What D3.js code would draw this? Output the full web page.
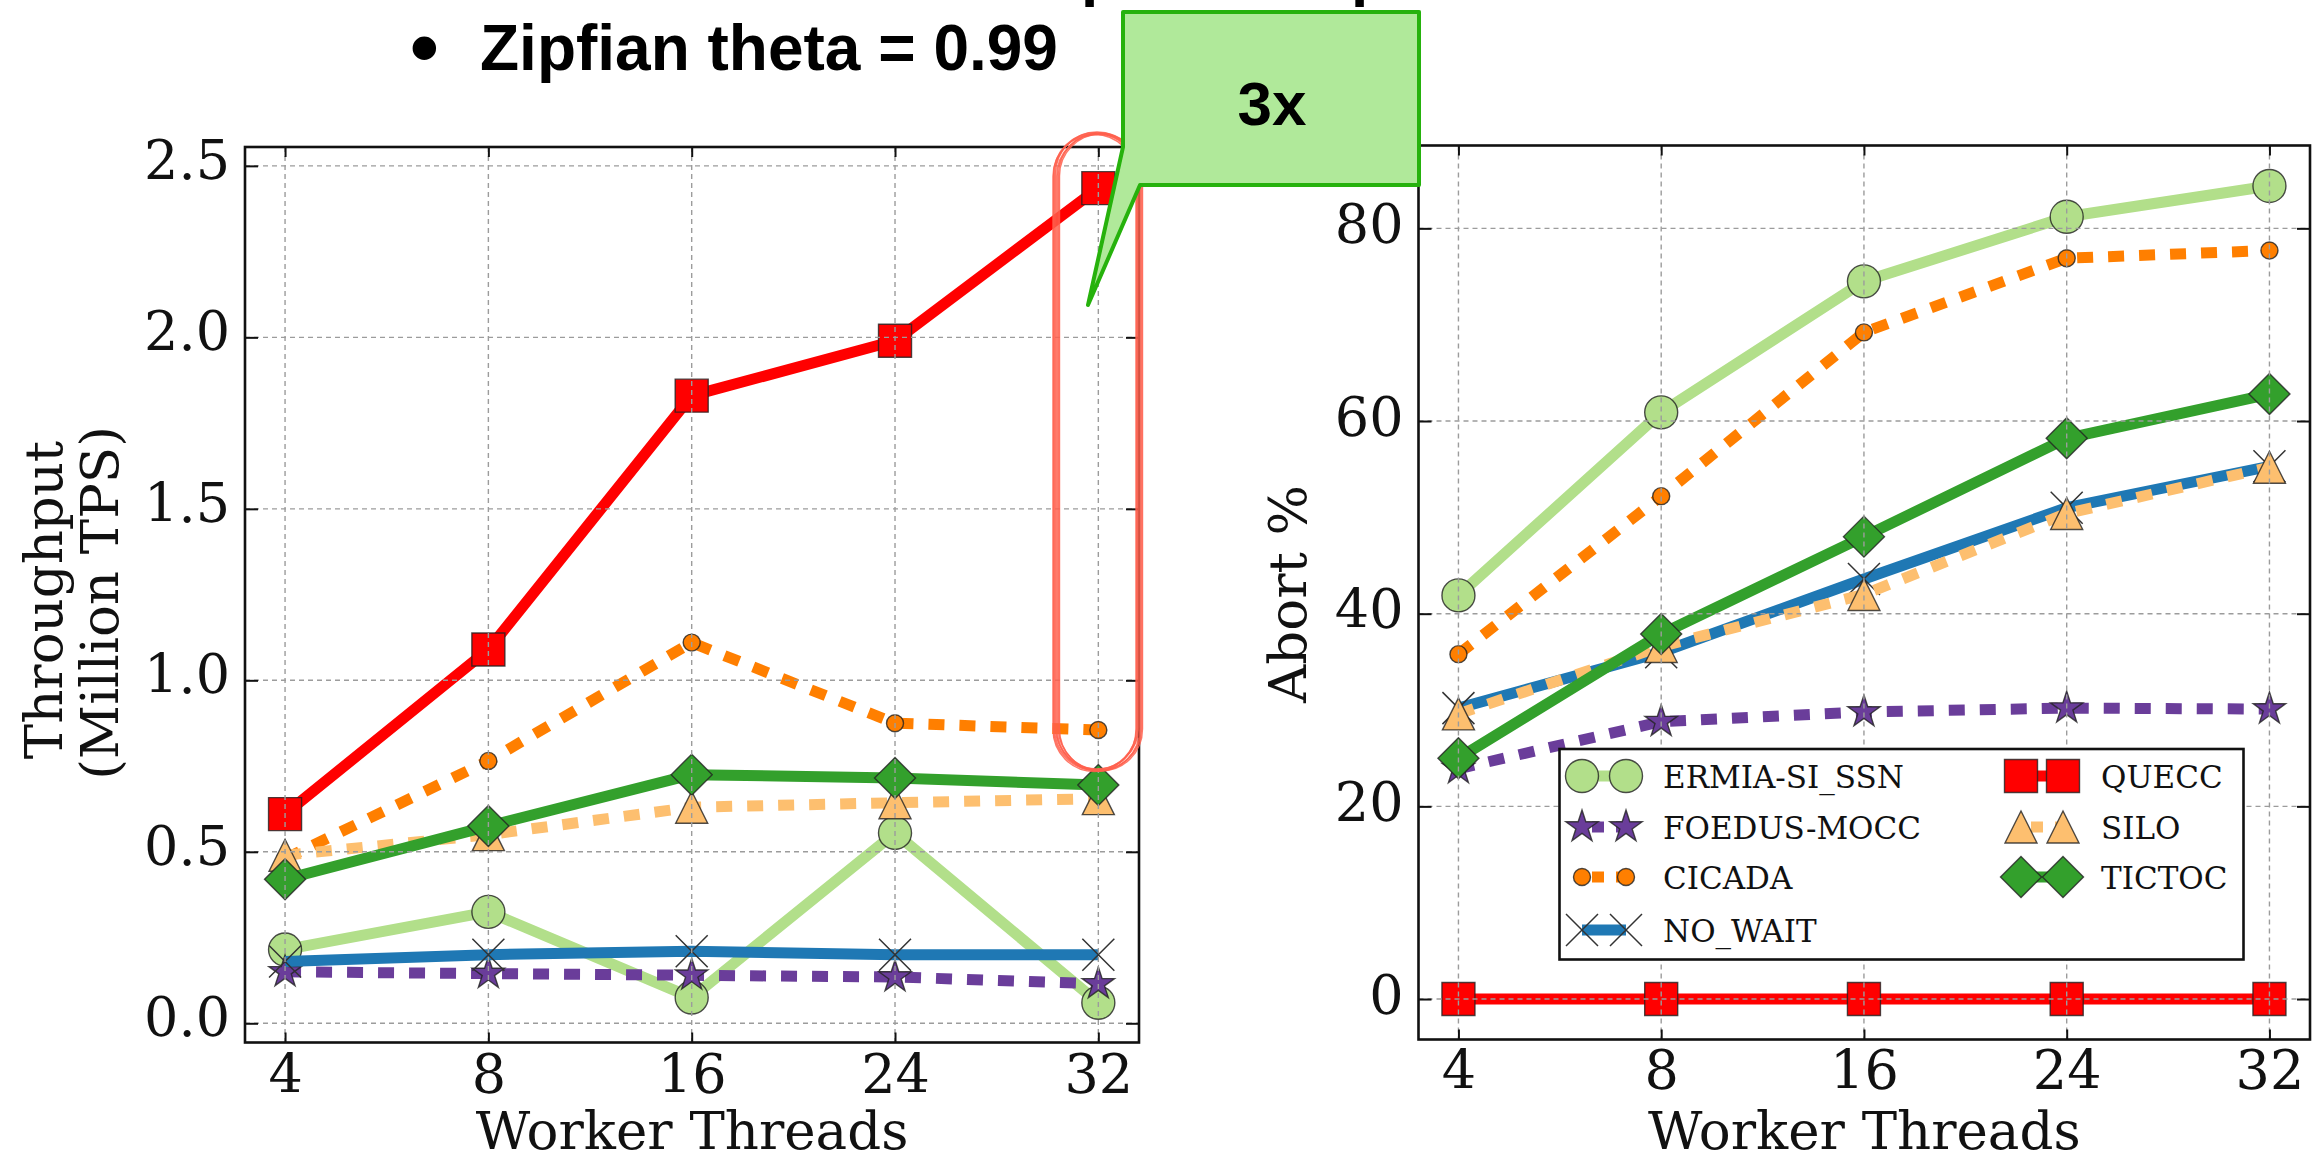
<!DOCTYPE html>
<html>
<head>
<meta charset="utf-8">
<script src="https://cdnjs.cloudflare.com/ajax/libs/d3/7.8.5/d3.min.js"></script>
<style>
  body { margin: 0; background: #ffffff; }
  svg { display: block; }
</style>
</head>
<body>
<svg id="chart" width="2312" height="1161"></svg>
<script>
// ---------------- DATA ----------------
const threads = ["4", "8", "16", "24", "32"];
const seriesNames = ["ERMIA-SI_SSN", "FOEDUS-MOCC", "CICADA", "NO_WAIT", "QUECC", "SILO", "TICTOC"];

// Throughput (Million TPS)
const tputERMIA  = [0.215, 0.325, 0.075, 0.555, 0.06];
const tputFOEDUS = [0.15, 0.145, 0.14, 0.135, 0.115];
const tputCICADA = [0.48, 0.765, 1.11, 0.875, 0.855];
const tputNOWAIT = [0.18, 0.20, 0.21, 0.20, 0.20];
const tputQUECC  = [0.61, 1.09, 1.83, 1.99, 2.435];
const tputSILO   = [0.49, 0.55, 0.63, 0.643, 0.655];
const tputTICTOC = [0.42, 0.575, 0.725, 0.715, 0.695];

// Abort %
const abortERMIA  = [41.9, 60.9, 74.5, 81.2, 84.4];
const abortFOEDUS = [23.9, 28.8, 29.8, 30.2, 30.1];
const abortCICADA = [35.8, 52.2, 69.2, 76.9, 77.7];
const abortNOWAIT = [30.2, 36.0, 43.6, 51.0, 55.3];
const abortQUECC  = [0, 0, 0, 0, 0];
const abortSILO   = [29.6, 36.6, 42.0, 50.4, 55.2];
const abortTICTOC = [25.0, 37.9, 48.0, 58.2, 62.8];

const leftTicks = [0, 0.5, 1.0, 1.5, 2.0, 2.5];
const leftTickLabels = ["0.0", "0.5", "1.0", "1.5", "2.0", "2.5"];
const rightTicks = [0, 20, 40, 60, 80];
const rightTickLabels = ["0", "20", "40", "60", "80"];

const tputData  = [tputERMIA, tputFOEDUS, tputCICADA, tputNOWAIT, tputQUECC, tputSILO, tputTICTOC];
const abortData = [abortERMIA, abortFOEDUS, abortCICADA, abortNOWAIT, abortQUECC, abortSILO, abortTICTOC];

// ---------------- STYLES ----------------
const styles = {
  "ERMIA-SI_SSN": { color: "#b2df8a", dash: null,    marker: "circle",   size: 16.5 },
  "FOEDUS-MOCC":  { color: "#6a3d9a", dash: "16,15", marker: "star",     size: 17 },
  "CICADA":       { color: "#ff7f00", dash: "16,15", marker: "circle",   size: 8.5 },
  "NO_WAIT":      { color: "#1f78b4", dash: null,    marker: "x",        size: 16 },
  "QUECC":        { color: "#ff0000", dash: null,    marker: "square",   size: 16.5 },
  "SILO":         { color: "#fdbf6f", dash: "16,15", marker: "triangle", size: 16 },
  "TICTOC":       { color: "#33a02c", dash: null,    marker: "diamond",  size: 20.5 }
};
const LINE_W = 11;
const SERIF = "'DejaVu Serif', serif";
const SANS = "'Liberation Sans', Arial, sans-serif";

function markerPath(type, s) {
  if (type === "square") return `M${-s},${-s}H${s}V${s}H${-s}Z`;
  if (type === "diamond") return `M0,${-s}L${s},0L0,${s}L${-s},0Z`;
  if (type === "triangle") return `M0,${-s}L${s},${s}L${-s},${s}Z`;
  if (type === "x") return `M${-s},${-s}L${s},${s}M${-s},${s}L${s},${-s}`;
  if (type === "star") {
    const pts = [];
    const r2 = s * 0.381966;
    for (let k = 0; k < 10; k++) {
      const r = k % 2 === 0 ? s : r2;
      const a = -Math.PI / 2 + k * Math.PI / 5;
      pts.push([r * Math.cos(a), r * Math.sin(a)]);
    }
    return "M" + pts.map(p => p[0].toFixed(2) + "," + p[1].toFixed(2)).join("L") + "Z";
  }
  return null;
}

function drawMarker(g, name, cx, cy) {
  const st = styles[name];
  if (st.marker === "circle") {
    g.append("circle").attr("cx", cx).attr("cy", cy).attr("r", st.size)
      .attr("fill", st.color).attr("stroke", "#222").attr("stroke-opacity", 0.8).attr("stroke-width", 1.4);
  } else if (st.marker === "x") {
    g.append("path").attr("transform", `translate(${cx},${cy})`).attr("d", markerPath("x", st.size))
      .attr("fill", "none").attr("stroke", "#333").attr("stroke-width", 1.5);
  } else {
    g.append("path").attr("transform", `translate(${cx},${cy})`).attr("d", markerPath(st.marker, st.size))
      .attr("fill", st.color).attr("stroke", "#222").attr("stroke-opacity", 0.8).attr("stroke-width", 1.4)
      .attr("stroke-linejoin", "miter");
  }
}

const svg = d3.select("#chart");
svg.append("rect").attr("width", 2312).attr("height", 1161).attr("fill", "#fff");

function drawPanel(cfg) {
  const x = d3.scaleLinear().domain([-0.197, 4.2]).range([cfg.left, cfg.right]);
  const y = d3.scaleLinear().domain(cfg.yDomain).range([cfg.bottom, cfg.top]);
  const g = svg.append("g");

  g.append("clipPath").attr("id", "clip" + cfg.id)
    .append("rect").attr("x", cfg.left).attr("y", cfg.top)
    .attr("width", cfg.right - cfg.left).attr("height", cfg.bottom - cfg.top);
  const plot = g.append("g").attr("clip-path", `url(#clip${cfg.id})`);

  // series
  seriesNames.forEach((name, si) => {
    const vals = cfg.data[si];
    const st = styles[name];
    const line = d3.line().x((d, i) => x(i)).y(d => y(d));
    const p = plot.append("path").attr("d", line(vals))
      .attr("fill", "none").attr("stroke", st.color).attr("stroke-width", LINE_W)
      .attr("stroke-linejoin", "round");
    if (st.dash) p.attr("stroke-dasharray", st.dash).attr("stroke-linecap", "butt");
    vals.forEach((v, i) => drawMarker(plot, name, x(i), y(v)));
  });

  // grid (drawn above data, classic style)
  const grid = g.append("g").attr("stroke", "#9c9c9c").attr("stroke-width", 1.4).attr("stroke-dasharray", "5,4");
  threads.forEach((t, i) => {
    grid.append("line").attr("x1", x(i)).attr("x2", x(i)).attr("y1", cfg.top).attr("y2", cfg.bottom);
  });
  cfg.ticks.forEach(v => {
    grid.append("line").attr("x1", cfg.left).attr("x2", cfg.right).attr("y1", y(v)).attr("y2", y(v));
  });

  // axes using d3 axis generators (ticks inward)
  const xAxisB = d3.axisBottom(x).tickValues(d3.range(threads.length)).tickFormat(i => threads[i])
    .tickSizeInner(-10).tickSizeOuter(0).tickPadding(21);
  const gx = g.append("g").attr("transform", `translate(0,${cfg.bottom})`).call(xAxisB);
  gx.select(".domain").remove();
  gx.selectAll("line").attr("stroke", "#111").attr("stroke-width", 2);
  gx.selectAll("text").attr("font-family", SERIF).attr("font-size", 54).attr("fill", "#111")
    .attr("dy", null).attr("y", cfg.xLabelOffset).attr("dominant-baseline", "alphabetic");

  const xAxisT = d3.axisTop(x).tickValues(d3.range(threads.length)).tickFormat("")
    .tickSizeInner(-10).tickSizeOuter(0);
  const gxt = g.append("g").attr("transform", `translate(0,${cfg.top})`).call(xAxisT);
  gxt.select(".domain").remove();
  gxt.selectAll("line").attr("stroke", "#111").attr("stroke-width", 2);

  const yAxisL = d3.axisLeft(y).tickValues(cfg.ticks).tickFormat((d, i) => cfg.tickLabels[i])
    .tickSizeInner(-13).tickSizeOuter(0).tickPadding(15);
  const gy = g.append("g").attr("transform", `translate(${cfg.left},0)`).call(yAxisL);
  gy.select(".domain").remove();
  gy.selectAll("line").attr("stroke", "#111").attr("stroke-width", 2);
  gy.selectAll("text").attr("font-family", SERIF).attr("font-size", 54).attr("fill", "#111")
    .attr("dy", null).attr("dominant-baseline", "alphabetic").attr("y", cfg.yLabelShift);

  const yAxisR = d3.axisRight(y).tickValues(cfg.ticks).tickFormat("")
    .tickSizeInner(-13).tickSizeOuter(0);
  const gyr = g.append("g").attr("transform", `translate(${cfg.right},0)`).call(yAxisR);
  gyr.select(".domain").remove();
  gyr.selectAll("line").attr("stroke", "#111").attr("stroke-width", 2);

  // frame
  g.append("rect").attr("x", cfg.left).attr("y", cfg.top)
    .attr("width", cfg.right - cfg.left).attr("height", cfg.bottom - cfg.top)
    .attr("fill", "none").attr("stroke", "#111").attr("stroke-width", 2.6);

  // x label
  g.append("text").attr("x", (cfg.left + cfg.right) / 2).attr("y", cfg.xTitleY)
    .attr("text-anchor", "middle").attr("font-family", SERIF).attr("font-size", 53).attr("fill", "#111")
    .text("Worker Threads");

  return { x, y, g };
}

// ---------------- LEFT PANEL ----------------
drawPanel({
  id: "L", left: 245, right: 1139, top: 147, bottom: 1042.5,
  yDomain: [-0.056, 2.555], ticks: leftTicks, tickLabels: leftTickLabels,
  data: tputData, xLabelOffset: 50.5, yLabelShift: 12.5, xTitleY: 1149
});
svg.append("text").attr("transform", "translate(61.7,600) rotate(-90)")
  .attr("text-anchor", "middle").attr("font-family", SERIF).attr("font-size", 53).attr("fill", "#111")
  .text("Throughput");
svg.append("text").attr("transform", "translate(118,603) rotate(-90)")
  .attr("text-anchor", "middle").attr("font-family", SERIF).attr("font-size", 53).attr("fill", "#111")
  .text("(Million TPS)");

// ---------------- RIGHT PANEL ----------------
drawPanel({
  id: "R", left: 1418.5, right: 2310, top: 145.5, bottom: 1039.5,
  yDomain: [-4.2, 88.6], ticks: rightTicks, tickLabels: rightTickLabels,
  data: abortData, xLabelOffset: 49.5, yLabelShift: 14, xTitleY: 1149
});
svg.append("text").attr("transform", "translate(1306,594) rotate(-90)")
  .attr("text-anchor", "middle").attr("font-family", SERIF).attr("font-size", 53).attr("fill", "#111")
  .text("Abort %");

// ---------------- LEGEND ----------------
const leg = svg.append("g");
leg.append("rect").attr("x", 1559.5).attr("y", 749).attr("width", 684).attr("height", 210.5)
  .attr("fill", "#fff").attr("stroke", "#111").attr("stroke-width", 2.6);
const legCols = [{ m1: 1582, m2: 1626, tx: 1663 }, { m1: 2021, m2: 2063, tx: 2101 }];
const legRows = [776, 827, 877, 930];
seriesNames.forEach((name, i) => {
  const col = legCols[i < 4 ? 0 : 1];
  const ry = legRows[i < 4 ? i : i - 4];
  const st = styles[name];
  const seg = leg.append("line").attr("x1", col.m1).attr("x2", col.m2).attr("y1", ry).attr("y2", ry)
    .attr("stroke", st.color).attr("stroke-width", LINE_W);
  if (st.dash) seg.attr("stroke-dasharray", "12,12").attr("stroke-dashoffset", -10);
  drawMarker(leg, name, col.m1, ry);
  drawMarker(leg, name, col.m2, ry);
  leg.append("text").attr("x", col.tx).attr("y", ry + 12).attr("font-family", SERIF)
    .attr("font-size", 31).attr("fill", "#111").text(name);
});

// ---------------- ANNOTATIONS ----------------
const ann = svg.append("g");
// partial descenders of the cut-off line above
ann.append("text").attr("x", 1081).attr("y", -6).attr("font-family", SANS).attr("font-weight", "bold")
  .attr("font-size", 62).attr("fill", "#000").text("p");
ann.append("text").attr("x", 1351).attr("y", -6).attr("font-family", SANS).attr("font-weight", "bold")
  .attr("font-size", 62).attr("fill", "#000").text("p");

// bullet + title
ann.append("text").attr("x", 410).attr("y", 75).attr("font-family", SANS).attr("font-weight", "bold")
  .attr("font-size", 82).attr("fill", "#000").text("•");
ann.append("text").attr("x", 480).attr("y", 70).attr("font-family", SANS).attr("font-weight", "bold")
  .attr("font-size", 64).attr("fill", "#000").text("Zipfian theta = 0.99");

// red hand-drawn stadium around the 32-thread column
const stadiumOffsets = [[0, 0, 2.2], [1.5, -1, 1.6], [-1, 1.5, 1.4], [3, 1, 1.8], [4.5, 0, 1.6], [5.5, 1, 1.4]];
stadiumOffsets.forEach(o => {
  ann.append("rect").attr("x", 1054 + o[0]).attr("y", 133 + o[1]).attr("width", 83).attr("height", 637)
    .attr("rx", 42).attr("ry", 42).attr("fill", "none").attr("stroke", "#ff5f4c")
    .attr("stroke-width", o[2]).attr("stroke-opacity", 0.85);
});

// green callout
const calloutPath = "M1123,12 L1419,12 L1419,185 L1140,185 L1088,305 L1123,147 Z";
ann.append("path").attr("d", calloutPath).attr("fill", "#b0e99a").attr("stroke", "#27b20d")
  .attr("stroke-width", 4).attr("stroke-linejoin", "round");
ann.append("path").attr("d", calloutPath).attr("transform", "translate(1,-1)").attr("fill", "none")
  .attr("stroke", "#27b20d").attr("stroke-width", 1.2).attr("stroke-opacity", 0.6);
ann.append("text").attr("x", 1272).attr("y", 125).attr("text-anchor", "middle").attr("font-family", SANS)
  .attr("font-weight", "bold").attr("font-size", 62).attr("fill", "#000").text("3x");
</script>
</body>
</html>
